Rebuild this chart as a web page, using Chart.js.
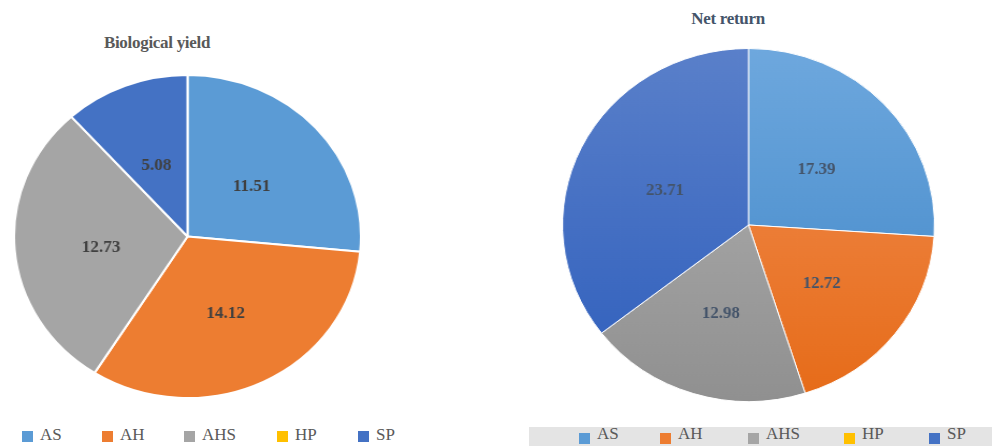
<!DOCTYPE html>
<html>
<head>
<meta charset="utf-8">
<script src="https://cdn.jsdelivr.net/npm/chart.js@4.4.1/dist/chart.umd.min.js"></script>
<style>
  body { margin: 0; background: #fff; width: 992px; height: 446px; position: relative; overflow: hidden; font-family: "Liberation Serif", "Times New Roman", serif; }
  canvas { position: absolute; }
  .title { position: absolute; font-weight: bold; font-size: 17px; transform: translateX(-50%); white-space: nowrap; letter-spacing: -0.3px; }
  .legend { position: absolute; font-size: 17px; color: #595959; }
  .legend span.item { position: absolute; display: flex; align-items: center; white-space: nowrap; }
  .legend i { display: inline-block; width: 11px; height: 11px; margin-right: 7px; }
</style>
</head>
<body>
<div class="title" id="t1" style="left:157px; top:33px; color:#595959;"></div>
<div class="title" id="t2" style="left:728px; top:9px; color:#44546A;"></div>
<canvas id="chartBio" width="325" height="325" style="left:13px; top:74px; width:349px; height:325px;"></canvas>
<canvas id="chartNet" width="354" height="354" style="left:562px; top:48px; width:373px; height:354px;"></canvas>
<div class="legend" id="leg1" style="left:0; top:428px; width:496px; height:18px;"></div>
<div class="legend" id="leg2" style="left:529px; top:427px; width:463px; height:19px; background:#e4e4e4;"></div>
<script>
const categorias = ['AS', 'AH', 'AHS', 'HP', 'SP'];
const rendimientoBiologico = [11.51, 14.12, 12.73, 0, 5.08];
const retornoNeto = [17.39, 12.72, 12.98, 0, 23.71];
const titulos = ['Biological yield', 'Net return'];

const colores = ['#5B9BD5', '#ED7D31', '#A5A5A5', '#FFC000', '#4472C4'];
const coloresClaros = ['#6EA8DE', '#F28F55', '#B3B3B3', '#FFCB33', '#5A80CA'];
const coloresOscuros = ['#3D84C6', '#E66B18', '#909090', '#F0B000', '#2E5EBC'];

const posLeyenda1 = [22, 102, 184, 277, 358];
const posLeyenda2 = [50, 131, 219, 315, 400];

document.getElementById('t1').textContent = titulos[0];
document.getElementById('t2').textContent = titulos[1];

function armarLeyenda(id, posiciones, boxTop) {
    const cont = document.getElementById(id);
    categorias.forEach((cat, i) => {
        const item = document.createElement('span');
        item.className = 'item';
        item.style.left = posiciones[i] + 'px';
        item.style.top = '-3px';
        item.innerHTML = '<i style="background:' + colores[i] + '; margin-top:' + boxTop + 'px"></i>' + cat;
        cont.appendChild(item);
    });
}
armarLeyenda('leg1', posLeyenda1, 2);
armarLeyenda('leg2', posLeyenda2, 8);

const etiquetas = {
    id: 'etiquetas',
    afterDatasetsDraw(chart, args, opts) {
        const ctx = chart.ctx;
        const meta = chart.getDatasetMeta(0);
        ctx.save();
        ctx.font = 'bold 16px "Liberation Serif", "Times New Roman", serif';
        ctx.fillStyle = opts.color;
        ctx.textAlign = 'center';
        ctx.textBaseline = 'middle';
        meta.data.forEach((arc, i) => {
            const v = chart.data.datasets[0].data[i];
            if (!v) return;
            const p = arc.tooltipPosition();
            ctx.fillText(v.toFixed(2), p.x, p.y + 5);
        });
        ctx.restore();
    }
};

function degradado(context) {
    const chart = context.chart;
    const area = chart.chartArea;
    if (!area) return colores[context.dataIndex];
    const g = chart.ctx.createLinearGradient(0, area.top, 0, area.bottom);
    g.addColorStop(0, coloresClaros[context.dataIndex]);
    g.addColorStop(1, coloresOscuros[context.dataIndex]);
    return g;
}

function crearPie(canvasId, valores, fondo, borde, colorTexto) {
    return new Chart(document.getElementById(canvasId), {
        type: 'pie',
        data: {
            labels: categorias,
            datasets: [{
                data: valores,
                backgroundColor: fondo,
                borderColor: '#ffffff',
                borderWidth: borde
            }]
        },
        options: {
            responsive: false,
            maintainAspectRatio: false,
            devicePixelRatio: 1,
            animation: false,
            layout: { padding: 0 },
            plugins: {
                legend: { display: false },
                tooltip: { enabled: false },
                etiquetas: { color: colorTexto }
            }
        },
        plugins: [etiquetas]
    });
}

crearPie('chartBio', rendimientoBiologico, colores, 2, '#404040');
crearPie('chartNet', retornoNeto, degradado, 1, '#44546A');
</script>
</body>
</html>
